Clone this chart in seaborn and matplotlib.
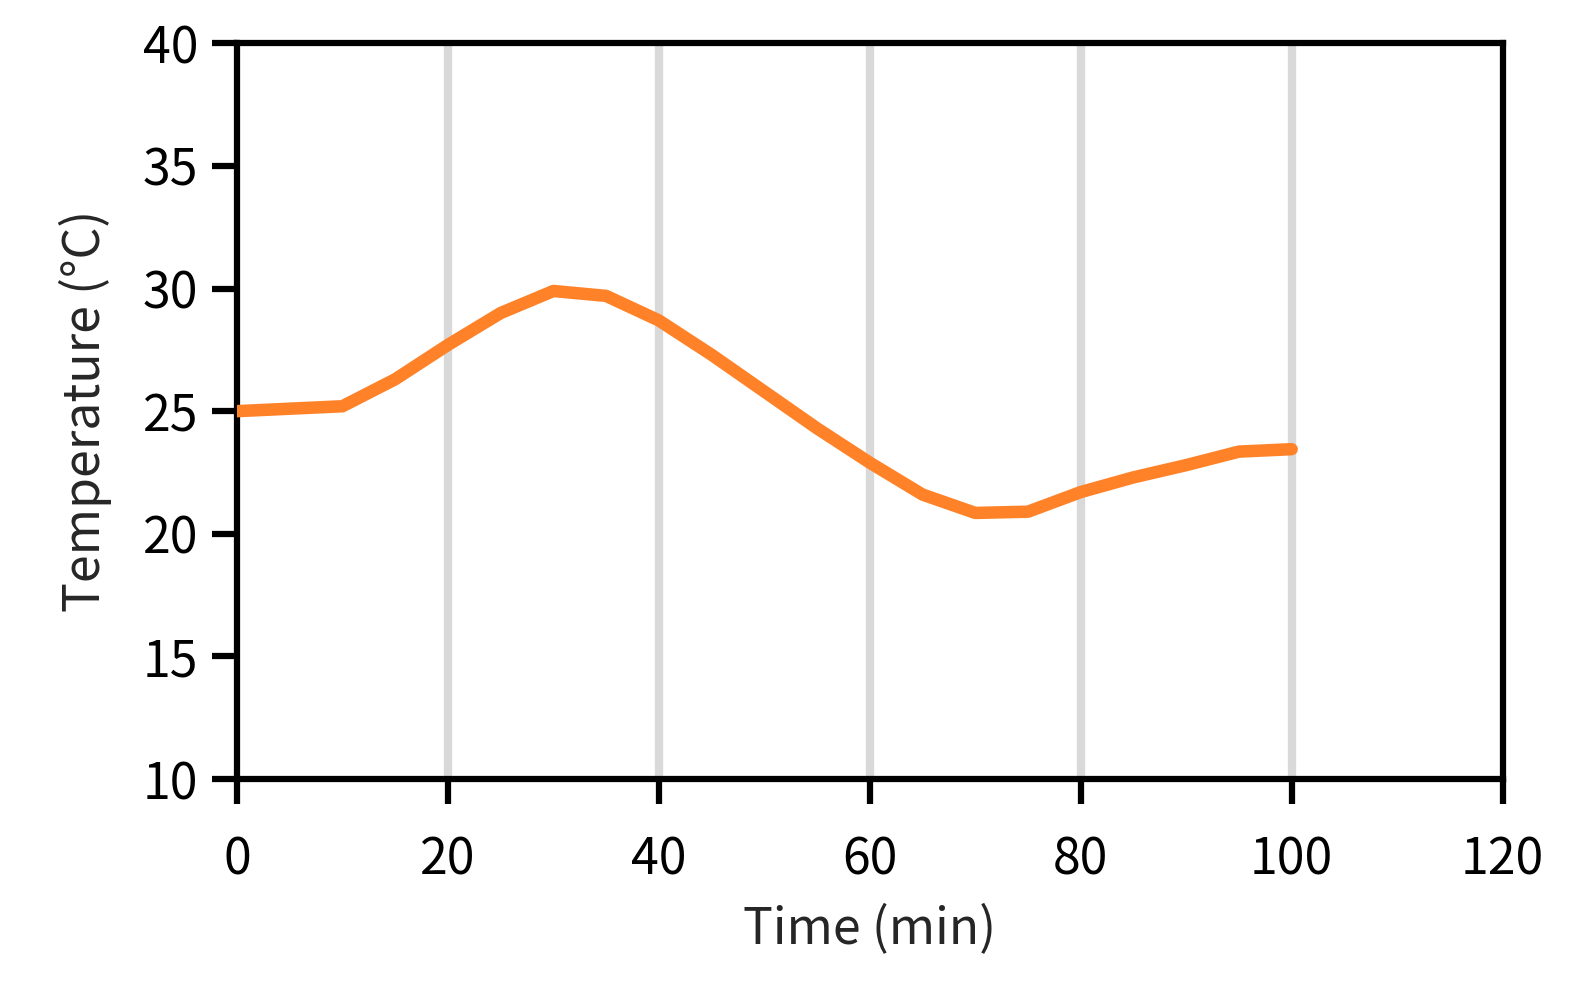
import matplotlib
matplotlib.use("Agg")
import matplotlib.pyplot as plt
import seaborn as sns
import pandas as pd

sns.set_style("white")
plt.rcParams['font.family'] = ['Noto Sans CJK JP', 'DejaVu Sans']

# 読み取った値
time_min = [0, 5, 10, 15, 20, 25, 30, 35, 40, 45, 50, 55, 60, 65, 70, 75, 80, 85, 90, 95, 100]
temp_c = [25.0, 25.1, 25.2, 26.3, 27.7, 29.0, 29.9, 29.7, 28.7, 27.3, 25.8, 24.3, 22.9, 21.6, 20.85, 20.9, 21.7, 22.3, 22.8, 23.35, 23.45]
x_ticks = [0, 20, 40, 60, 80, 100, 120]
y_ticks = [10, 15, 20, 25, 30, 35, 40]

df = pd.DataFrame({"time": time_min, "temp": temp_c})

fig = plt.figure(figsize=(15.85, 10.07), dpi=100)
ax = fig.add_axes([0.1495, 0.2264, 0.7985, 0.7306])

for xv in x_ticks[1:-1]:
    ax.axvline(xv, color="#d9d9d9", lw=6, zorder=0)

sns.lineplot(data=df, x="time", y="temp", ax=ax, color="#ff8228", lw=9,
             solid_capstyle="round", solid_joinstyle="round", zorder=3)

ax.set_xlim(0, 120)
ax.set_ylim(10, 40)
ax.set_xticks(x_ticks)
ax.set_yticks(y_ticks)
ax.tick_params(axis="both", direction="out", length=18, width=4.5,
               labelsize=36, colors="black", pad=10,
               bottom=True, left=True)
ax.tick_params(axis="x", pad=22)
for s in ax.spines.values():
    s.set_linewidth(4.5)
    s.set_color("black")
ax.set_xlabel("Time (min)", fontsize=36, labelpad=12)
ax.set_ylabel("Temperature (°C)", fontsize=36, labelpad=22)

fig.savefig("out.png", dpi=100)
